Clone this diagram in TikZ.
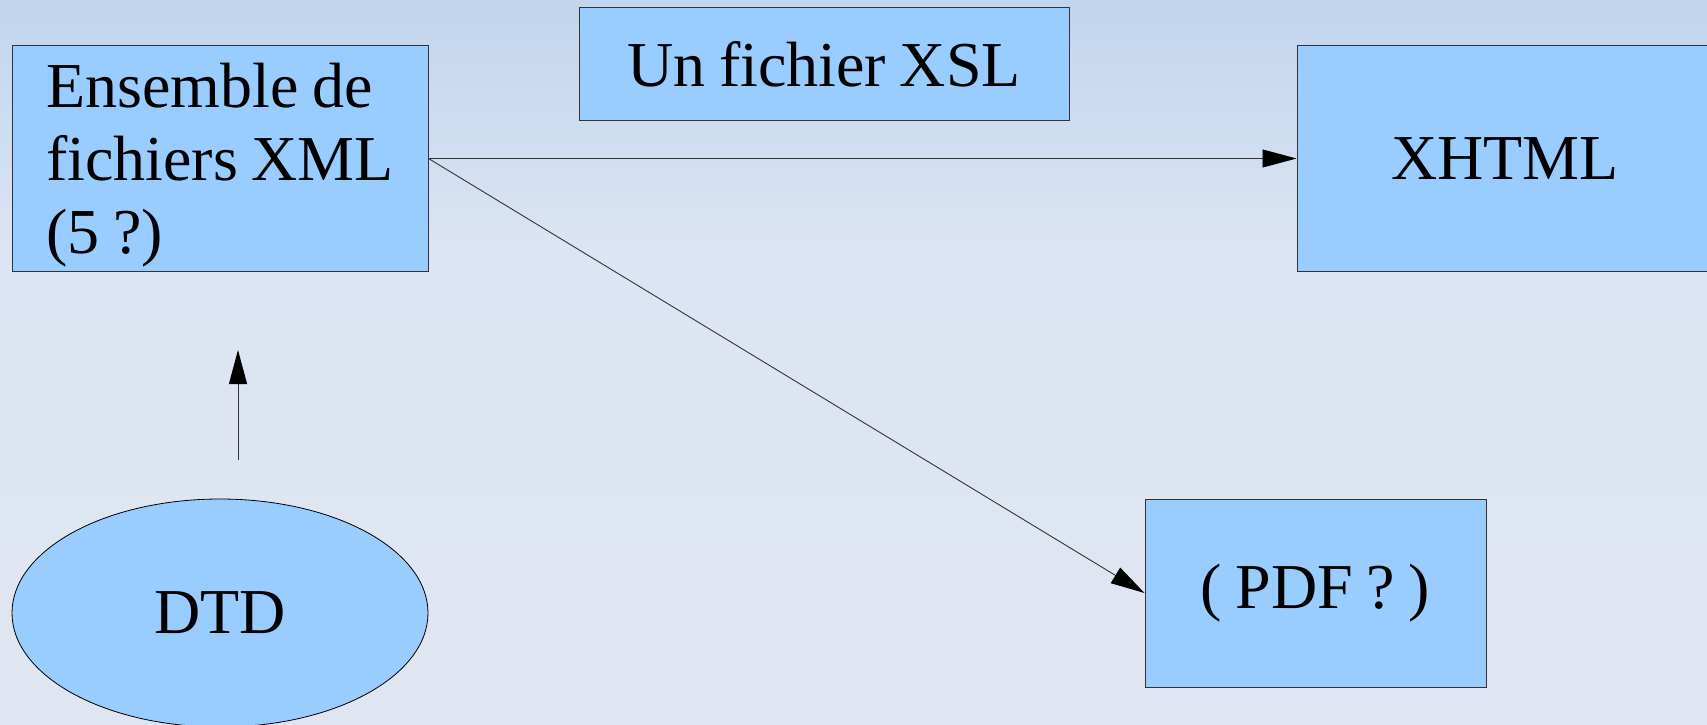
\documentclass[tikz,border=0pt]{standalone}
\usepackage{fontspec}
\setmainfont{Liberation Serif}[WordSpace=0.85]
\usetikzlibrary{arrows.meta,shapes.geometric}
\definecolor{boxfill}{HTML}{99CCFF}
\definecolor{boxline}{HTML}{333333}
\definecolor{bgtop}{HTML}{C2D5EE}
\definecolor{bgmid}{HTML}{DCE5F3}
\definecolor{bgbot}{HTML}{E0E6F1}
\tikzset{
  blockbox/.style={draw=boxline, fill=boxfill, line width=1pt, rectangle, inner sep=0pt,
    font=\fontsize{64}{73}\selectfont},
  blockoval/.style={draw=black, fill=boxfill, line width=0.8pt, ellipse, inner sep=0pt,
    font=\fontsize{64}{73}\selectfont},
  flow/.style={draw=black!80, line width=0.9pt, -{Triangle[length=34pt,width=18pt,color=black,fill=black]}}
}
\begin{document}
\begin{tikzpicture}[x=1pt,y=-1pt]
\useasboundingbox (0,0) rectangle (1707,725);
\shade[top color=bgtop, bottom color=bgmid] (0,0) rectangle (1707,260);
\shade[top color=bgmid, bottom color=bgbot] (0,259.5) rectangle (1707,725);
\node[blockbox, minimum width=416pt, minimum height=225pt]
  (xml) at (220,158.5) {\raisebox{-7pt}[\height][\depth]{\begin{tabular}{@{}l@{}}Ensemble de\\fichiers XML\\(5 ?)\end{tabular}}};
\node[blockbox, minimum width=490pt, minimum height=112pt] (xsl) at (824,64) {Un fichier XSL};
\node[blockbox, minimum width=416pt, minimum height=225pt] (xhtml) at (1505,158.5) {XHTML};
\node[blockbox, minimum width=341pt, minimum height=188pt] (pdf) at (1315.5,593) {( PDF ? )};
\node[blockoval, minimum width=416pt, minimum height=228pt] (dtd) at (220,613) {DTD};
\coordinate (upstart) at (238,460);
\coordinate (upend) at (238,350);
\draw[flow] (xml.east) -- (xhtml.west);
\draw[flow] (xml.east) -- (pdf.west);
\draw[flow] (upstart) -- (upend);
\end{tikzpicture}
\end{document}
